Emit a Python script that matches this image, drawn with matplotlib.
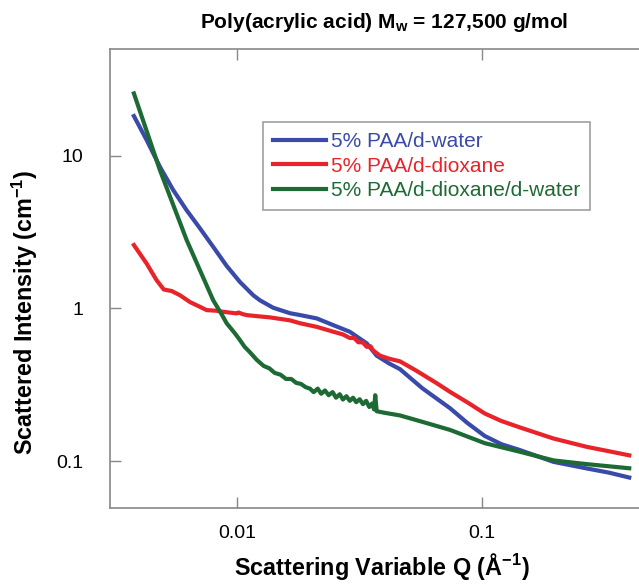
import numpy as np
import matplotlib
matplotlib.use('Agg')
import matplotlib.pyplot as plt

plt.rcParams['font.family'] = ['Liberation Sans', 'DejaVu Sans']
plt.rcParams['mathtext.fontset'] = 'custom'
plt.rcParams['mathtext.rm'] = 'Liberation Sans'
plt.rcParams['mathtext.bf'] = 'Liberation Sans:bold'

# 5% PAA/d-water
q_water = [0.003773, 0.004251, 0.004819, 0.005463, 0.006196, 0.007024, 0.007962, 0.009032,
           0.01024, 0.0116, 0.01236, 0.014, 0.0164, 0.018, 0.0211, 0.0247, 0.0288, 0.0338,
           0.0371, 0.0418, 0.0462, 0.057, 0.074, 0.0870, 0.1026, 0.120, 0.143, 0.196,
           0.2676, 0.33, 0.40]
i_water = [18.2, 12.7, 8.47, 5.96, 4.40, 3.35, 2.53, 1.90,
           1.49, 1.22, 1.13, 1.01, 0.93, 0.905, 0.86, 0.776, 0.703, 0.59,
           0.49, 0.435, 0.40, 0.30, 0.222, 0.178, 0.146, 0.129, 0.118, 0.0988,
           0.0895, 0.084, 0.078]

# 5% PAA/d-dioxane
q_diox = [0.003773, 0.004251, 0.004672, 0.005, 0.00538, 0.00582, 0.0064, 0.00702, 0.00748,
          0.00822, 0.00875, 0.00993, 0.0101, 0.0105, 0.0109, 0.0120, 0.0136, 0.0164,
          0.018, 0.0211, 0.0247, 0.0270, 0.0288, 0.0300, 0.0312, 0.0325, 0.0338, 0.0350,
          0.0359, 0.0383, 0.0418, 0.0462, 0.054, 0.065, 0.074, 0.088, 0.1026, 0.120,
          0.143, 0.196, 0.2676, 0.33, 0.40]
i_diox = [2.60, 1.97, 1.53, 1.33, 1.30, 1.22, 1.10, 1.025, 0.975,
          0.965, 0.95, 0.927, 0.94, 0.918, 0.904, 0.89, 0.873, 0.835,
          0.80, 0.757, 0.703, 0.675, 0.64, 0.64, 0.60, 0.60, 0.56, 0.565,
          0.53, 0.49, 0.468, 0.45, 0.39, 0.325, 0.284, 0.24, 0.205, 0.183,
          0.166, 0.1405, 0.124, 0.116, 0.109]

# 5% PAA/d-dioxane/d-water
q_mix = [0.003773, 0.004819, 0.006196, 0.007962, 0.008600, 0.009032, 0.00977, 0.01024, 0.0107,
         0.0112, 0.012, 0.0128, 0.0135, 0.0142, 0.0150, 0.0158, 0.0166, 0.0174, 0.0182,
         0.0190, 0.0198, 0.0205, 0.0213, 0.0220, 0.0228, 0.0236, 0.0245, 0.0253, 0.0262,
         0.0270, 0.0279, 0.0288, 0.0297, 0.0306, 0.0316, 0.0326, 0.0336, 0.0346, 0.0355,
         0.0362, 0.0366, 0.0371, 0.0400, 0.0462, 0.0575, 0.074, 0.1026, 0.143, 0.196,
         0.2676, 0.40]
i_mix = [25.6, 8.06, 2.81, 1.13, 0.92, 0.80, 0.686, 0.62, 0.56,
         0.52, 0.46, 0.42, 0.405, 0.378, 0.368, 0.345, 0.345, 0.325, 0.32,
         0.305, 0.298, 0.283, 0.298, 0.276, 0.290, 0.270, 0.283, 0.260, 0.274,
         0.253, 0.266, 0.248, 0.260, 0.243, 0.254, 0.236, 0.248, 0.226, 0.238,
         0.218, 0.270, 0.212, 0.207, 0.199, 0.180, 0.160, 0.131, 0.115, 0.101,
         0.0955, 0.0897]

labels = ['5% PAA/d-water', '5% PAA/d-dioxane', '5% PAA/d-dioxane/d-water']
colors = ['#3a4aa8', '#e8242a', '#1e6a35']

fig = plt.figure(figsize=(6.39, 5.84), dpi=100)
ax = fig.add_axes([0.172, 0.130, 0.828, 0.786])

for q, i, lab, c in zip([q_water, q_diox, q_mix], [i_water, i_diox, i_mix], labels, colors):
    ax.plot(q, i, color=c, lw=3.0, label=lab, solid_joinstyle='round')

ax.set_xscale('log')
ax.set_yscale('log')
ax.set_xlim(0.00301, 0.4385)
ax.set_ylim(0.0492, 50)
ax.set_xticks([0.01, 0.1])
ax.set_xticklabels(['0.01', '0.1'])
ax.set_yticks([0.1, 1, 10])
ax.set_yticklabels(['0.1', '1', '10'])
ax.minorticks_off()

for s in ['left', 'top', 'bottom']:
    ax.spines[s].set_color('#888888')
    ax.spines[s].set_linewidth(1.2)
ax.spines['right'].set_visible(False)
ax.tick_params(direction='in', length=8, width=1, color='#888888', labelsize=14,
               top=True, right=False)
ax.tick_params(axis='y', pad=19)
ax.tick_params(axis='x', pad=12)

leg = ax.legend(loc='upper left', bbox_to_anchor=(263 / 639, 1 - 122 / 584),
                bbox_transform=fig.transFigure, fontsize=15, frameon=True,
                fancybox=False, edgecolor='#888888', handlelength=2.5,
                handletextpad=0.25, labelspacing=0.25, borderpad=0.5, borderaxespad=0)
leg.get_frame().set_linewidth(1.2)
for t, c in zip(leg.get_texts(), colors):
    t.set_color(c)

fig.text(384 / 639, 1 - 22 / 584, r'Poly(acrylic acid) M$_\mathbf{w}$ = 127,500 g/mol',
         ha='center', va='center', fontsize=15, fontweight='bold')
fig.text(382 / 639, 9 / 584, r'Scattering Variable Q (Å$^\mathbf{-1}$)',
         ha='center', va='baseline', fontsize=16.8, fontweight='bold')
fig.text(25 / 639, 1 - 312 / 584, r'Scattered Intensity (cm$^\mathbf{-1}$)',
         ha='center', va='center', rotation=90, fontsize=16.8, fontweight='bold')

fig.savefig('out.png', dpi=100)
